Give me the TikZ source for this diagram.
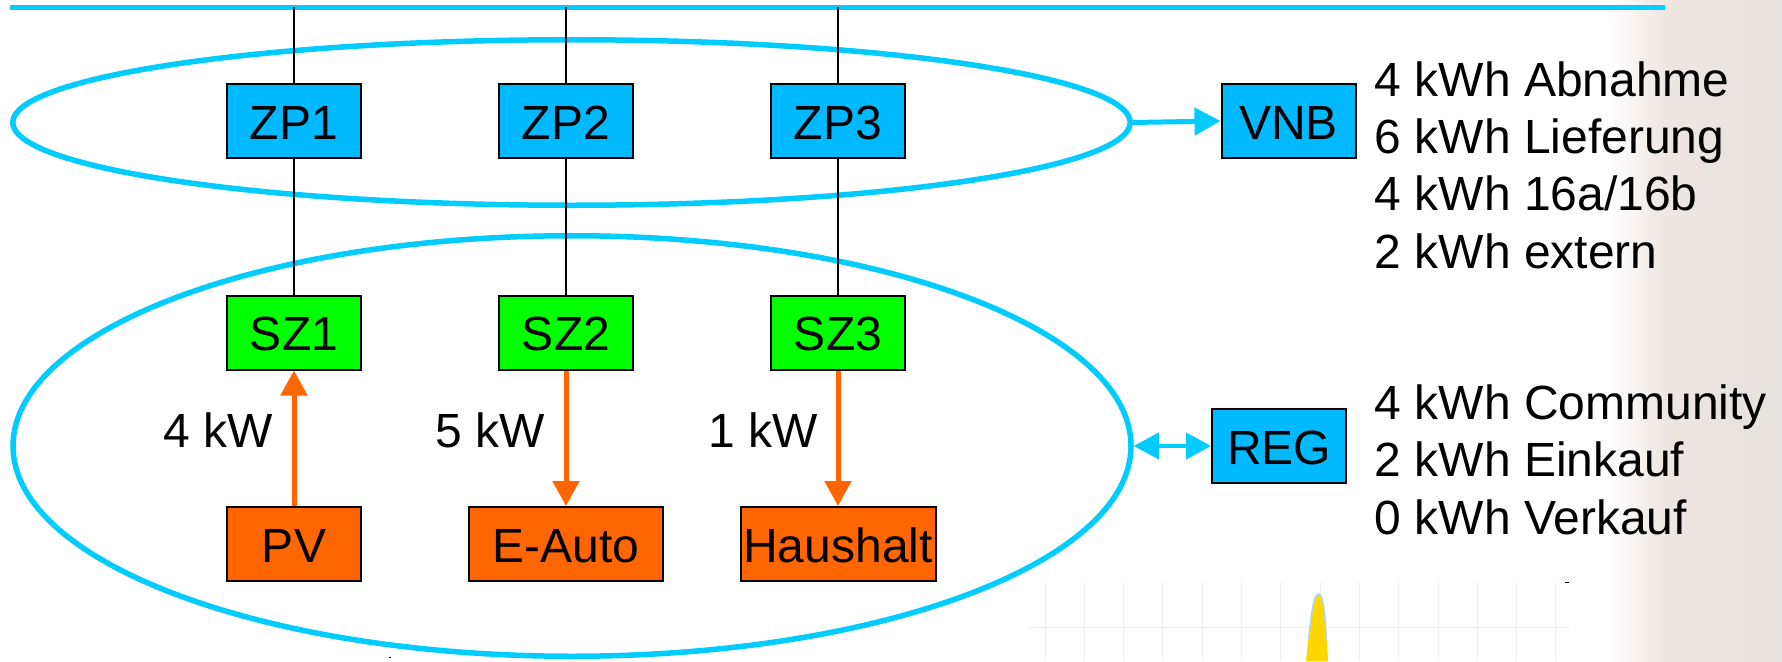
\documentclass[tikz,border=0pt]{standalone}
\usepackage{fontspec}
\setmainfont{Liberation Sans}
\usetikzlibrary{arrows.meta,shapes.geometric}
\definecolor{bus}{RGB}{0,204,255}
\definecolor{boxblue}{RGB}{0,185,255}
\definecolor{boxgreen}{RGB}{0,255,0}
\definecolor{boxorange}{RGB}{255,102,0}
\definecolor{bgbeige}{RGB}{238,230,225}
\definecolor{bggrey}{RGB}{230,226,223}
\definecolor{gridgrey}{RGB}{240,240,240}
\definecolor{peak}{RGB}{255,214,0}
\definecolor{peakedge}{RGB}{175,215,240}
\begin{document}
\begin{tikzpicture}[x=1pt,y=-1pt,
  every node/.style={font=\fontsize{48}{57}\selectfont},
  box/.style={draw=black, line width=2pt, minimum height=74pt, text height=36pt, text depth=0pt, inner sep=0pt},
  zpbox/.style={box, fill=boxblue, minimum width=134pt},
  szbox/.style={box, fill=boxgreen, minimum width=134pt},
  devbox/.style={box, fill=boxorange},
  ring/.style={draw=bus, line width=5.5pt, ellipse, inner sep=0pt},
  wire/.style={draw=black, line width=2pt},
  flow/.style={draw=boxorange, line width=5pt, -{Triangle[width=26pt,length=25pt]}},
  cyanarrow/.style={draw=bus, line width=5pt, -{Triangle[width=27pt,length=26pt]}},
  dblarrow/.style={draw=bus, line width=4pt, {Triangle[width=26pt,length=25pt]}-{Triangle[width=26pt,length=25pt]}},
  listtext/.style={anchor=base west, inner sep=0pt},
  gridline/.style={draw=gridgrey, line width=1pt},
]
\useasboundingbox (0,0) rectangle (1782,661);
% background
\fill[white] (0,0) rectangle (1782,661);
\shade[left color=white, right color=bgbeige] (1610,0) rectangle (1665,661);
\shade[left color=bgbeige, right color=bggrey] (1665,0) rectangle (1782,661);
% faint chart
\foreach \i in {0,...,13} {\draw[gridline] (1045+39.3*\i,582) -- (1045+39.3*\i,661);}
\draw[gridline] (1027,627) -- (1570,627);
\fill[peak] (1306,661) .. controls (1311,612) and (1314,594) .. (1318.5,594) .. controls (1323,594) and (1325,612) .. (1328,661) -- cycle;
\draw[peakedge, line width=1.5pt] (1308.5,640) .. controls (1312,606) and (1314.5,594) .. (1318.5,594) .. controls (1322.5,594) and (1324.5,606) .. (1326.5,640);
\draw[black, line width=1pt] (1565,582) -- (1569,582);
\draw[black, line width=1pt] (389,657) -- (391,657);

% bus
\coordinate (busL) at (10,7.5);
\coordinate (busR) at (1665,7.5);
\coordinate (b1) at (294,7.5);
\coordinate (b2) at (566,7.5);
\coordinate (b3) at (838,7.5);
\draw[bus, line width=5pt] (busL) -- (busR);

% rings
\node[ring, minimum width=1117.5pt, minimum height=165.5pt] (zring) at (571.5,122.5) {};
\node[ring, minimum width=1118pt, minimum height=420.5pt] (lring) at (572,446) {};

% boxes
\node[zpbox] (zp1) at (294,121) {ZP1};
\node[zpbox] (zp2) at (566,121) {ZP2};
\node[zpbox] (zp3) at (838,121) {ZP3};
\node[zpbox] (vnb) at (1288.5,121) {VNB};
\node[szbox] (sz1) at (294,332.5) {SZ1};
\node[szbox] (sz2) at (566,332.5) {SZ2};
\node[szbox] (sz3) at (838,332.5) {SZ3};
\node[devbox, minimum width=134pt] (pv) at (294,544) {PV};
\node[devbox, minimum width=194pt] (eauto) at (566,544) {E-Auto};
\node[devbox, minimum width=195pt] (haus) at (838,544) {Haushalt};
\node[zpbox] (reg) at (1279,446) {REG};

% wires
\draw[wire] (b1) -- (zp1.north);
\draw[wire] (b2) -- (zp2.north);
\draw[wire] (b3) -- (zp3.north);
\draw[wire] (zp1) -- (sz1);
\draw[wire] (zp2) -- (sz2);
\draw[wire] (zp3) -- (sz3);

% flows
\draw[flow] (pv) -- (sz1);
\draw[flow] (sz2) -- (eauto);
\draw[flow] (sz3) -- (haus);
\node[listtext] (l1) at (163.5,447.5) {4 kW};
\node[listtext] (l2) at (435.5,447.5) {5 kW};
\node[listtext] (l3) at (708.5,447.5) {1 kW};

% ring connectors
\draw[cyanarrow] (zring.east) -- (vnb.west);
\draw[dblarrow] (lring.east) -- (reg.west);

% lists
\node[listtext] (v1) at (1374.5,96.7) {4 kWh Abnahme};
\node[listtext] (v2) at (1374.5,153.3) {6 kWh Lieferung};
\node[listtext] (v3) at (1374.5,210.7) {4 kWh 16a/16b};
\node[listtext] (v4) at (1374.5,268.3) {2 kWh extern};
\node[listtext] (r1) at (1374.5,419.3) {4 kWh Community};
\node[listtext] (r2) at (1374.5,476.7) {2 kWh Einkauf};
\node[listtext] (r3) at (1374.5,534) {0 kWh Verkauf};
\end{tikzpicture}
\end{document}
